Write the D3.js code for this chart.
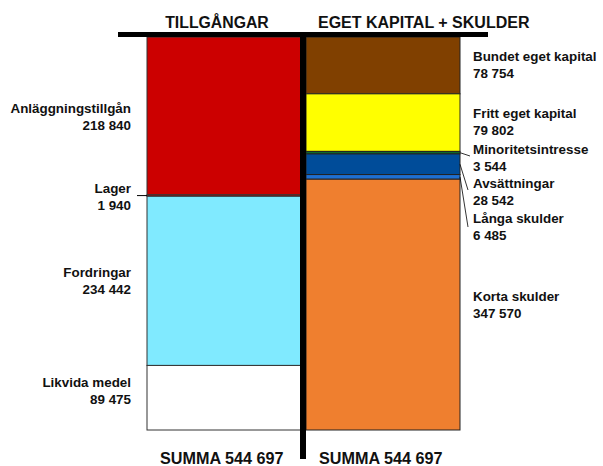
<!DOCTYPE html>
<html>
<head>
<meta charset="utf-8">
<script src="https://cdn.jsdelivr.net/npm/d3@7"></script>
<style>
  body { margin: 0; background: #fff; }
  text { font-family: "Liberation Sans", Arial, sans-serif; font-weight: bold; fill: #111; }
</style>
</head>
<body>
<div id="chart"></div>
<script>
const svgWidth = 603, svgHeight = 466;

// data
const assetNames = ['Anläggningstillgån', 'Lager', 'Fordringar', 'Likvida medel'];
const assetValues = [218840, 1940, 234442, 89475];
const assetColors = ['#cc0000', '#cc0000', '#80eaff', '#ffffff'];

const claimNames = ['Bundet eget kapital', 'Fritt eget kapital', 'Minoritetsintresse', 'Avsättningar', 'Långa skulder', 'Korta skulder'];
const claimValues = [78754, 79802, 3544, 28542, 6485, 347570];
const claimColors = ['#804000', '#ffff00', '#0c6a2c', '#004c99', '#1f6fd0', '#ef7f2f'];

const headers = ['TILLGÅNGAR', 'EGET KAPITAL + SKULDER'];
const total = 544697;

const fmt = v => d3.format(',')(v).replace(/,/g, ' ');

const svg = d3.select('#chart')
  .append('svg')
  .attr('width', svgWidth)
  .attr('height', svgHeight);

const y = d3.scaleLinear().domain([0, total]).range([37, 430]);

function stack(values) {
  let acc = 0;
  return values.map(v => { const s = acc; acc += v; return { y0: s, y1: acc, v }; });
}

const assets = stack(assetValues).map((d, i) => ({ ...d, name: assetNames[i], color: assetColors[i] }));
const claims = stack(claimValues).map((d, i) => ({ ...d, name: claimNames[i], color: claimColors[i] }));

// left column
svg.append('g').selectAll('rect')
  .data(assets)
  .enter()
  .append('rect')
  .attr('x', 147)
  .attr('y', d => y(d.y0))
  .attr('width', 154)
  .attr('height', d => y(d.y1) - y(d.y0))
  .attr('fill', d => d.color)
  .attr('stroke', '#333')
  .attr('stroke-width', 1);

// right column
svg.append('g').selectAll('rect')
  .data(claims)
  .enter()
  .append('rect')
  .attr('x', 306)
  .attr('y', d => y(d.y0))
  .attr('width', 154)
  .attr('height', d => y(d.y1) - y(d.y0))
  .attr('fill', d => d.color)
  .attr('stroke', '#222')
  .attr('stroke-width', 1);

// T-account lines
svg.append('rect').attr('x', 118).attr('y', 32).attr('width', 370).attr('height', 5).attr('fill', '#000');
svg.append('rect').attr('x', 300).attr('y', 32).attr('width', 6).attr('height', 427).attr('fill', '#000');

// headers
svg.append('text').attr('x', 217).attr('y', 28).attr('text-anchor', 'middle')
  .style('font-size', '15.8px').text(headers[0]);
svg.append('text').attr('x', 318).attr('y', 28)
  .style('font-size', '16px').text(headers[1]);

// left labels: [baseline of name]
const leftLabelY = [113, 193, 277, 387];
assets.forEach((d, i) => {
  const t = svg.append('text').attr('text-anchor', 'end').style('font-size', '13.4px');
  t.append('tspan').attr('x', 131).attr('y', leftLabelY[i]).text(d.name);
  t.append('tspan').attr('x', 131).attr('y', leftLabelY[i] + 17).text(fmt(d.v));
});
// leader for Lager
svg.append('line').attr('x1', 137).attr('x2', 147)
  .attr('y1', y(assets[1].y0 + assets[1].v / 2)).attr('y2', y(assets[1].y0 + assets[1].v / 2))
  .attr('stroke', '#000').attr('stroke-width', 1);

// right labels
const rightLabelY = [61, 118, 154, 188, 223, 301];
claims.forEach((d, i) => {
  const t = svg.append('text').style('font-size', '13.4px');
  t.append('tspan').attr('x', 473).attr('y', rightLabelY[i]).text(d.name);
  t.append('tspan').attr('x', 473).attr('y', rightLabelY[i] + 17).text(fmt(d.v));
});

// leaders for thin right segments
const leaderEnds = [[2, 470, 156], [3, 468, 190], [4, 468, 227]];
leaderEnds.forEach(([i, x2, y2]) => {
  const d = claims[i];
  svg.append('line')
    .attr('x1', 460).attr('y1', y(d.y0 + d.v / 2))
    .attr('x2', x2).attr('y2', y2)
    .attr('stroke', '#000').attr('stroke-width', 0.8);
});

// sums
svg.append('text').attr('x', 160).attr('y', 464).style('font-size', '16.2px')
  .text('SUMMA ' + fmt(d3.sum(assetValues)));
svg.append('text').attr('x', 319).attr('y', 464).style('font-size', '16.2px')
  .text('SUMMA ' + fmt(d3.sum(claimValues)));
</script>
</body>
</html>
